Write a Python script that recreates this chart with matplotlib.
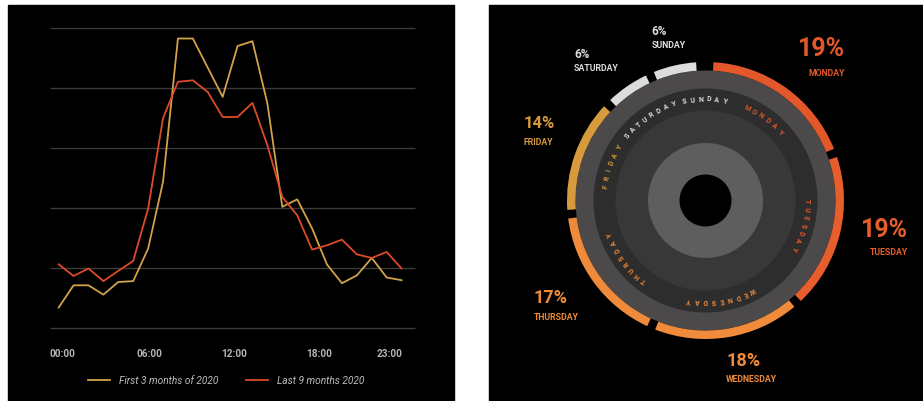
import numpy as np
import matplotlib.pyplot as plt
from matplotlib.patches import Wedge, Circle, Rectangle

plt.rcParams['font.family'] = ['Roboto', 'DejaVu Sans']

# hourly activity (index = hour of day)
hours = list(range(24))
first_3_months = [6.9, 14.3, 14.3, 11.2, 15.4, 15.7, 26.5, 48.7, 96.4, 96.4, 86.7, 77.0,
                  93.9, 95.5, 74.8, 40.4, 42.9, 33.2, 21.2, 15.0, 17.6, 23.4, 16.9, 16.0]
last_9_months = [21.3, 17.4, 19.9, 15.7, 19.1, 22.4, 39.8, 69.9, 82.0, 82.5, 78.6, 70.3,
                 70.3, 75.0, 60.9, 43.7, 37.6, 26.2, 27.6, 29.5, 24.6, 23.4, 25.4, 19.9]
tick_labels = ["00:00", "06:00", "12:00", "18:00", "23:00"]
tick_pos = [0.25, 6.1, 11.8, 17.5, 22.2]
series_names = ["First 3 months of 2020", "Last 9 months 2020"]

# share of activity per weekday (%)
days = ["MONDAY", "TUESDAY", "WEDNESDAY", "THURSDAY", "FRIDAY", "SATURDAY", "SUNDAY"]
shares = [19, 19, 18, 17, 14, 6, 6]
day_colors = ["#e2582b", "#e55e2c", "#f08b3b", "#ee8a3a", "#d79a3c", "#dcdcdc", "#dcdcdc"]

W, H = 923, 401
fig = plt.figure(figsize=(W / 100, H / 100), dpi=100, facecolor="white")


def px_axes(x0, y0, x1, y1):
    # axes from a pixel box, y measured from the top
    return fig.add_axes([x0 / W, 1 - y1 / H, (x1 - x0) / W, (y1 - y0) / H])


# black panels
for x0, x1 in [(8, 454), (488.7, 923)]:
    fig.add_artist(Rectangle((x0 / W, 0), (x1 - x0) / W, 396 / H,
                             transform=fig.transFigure, color="black", zorder=0))

# ---- left: hourly lines ----
ax = px_axes(50, 27.7, 415, 328.3)
ax.set_facecolor("none")
ax.set_xlim(-0.58, 23.9)
ax.set_ylim(0, 100)
ax.hlines(np.arange(0, 101, 20), -0.58, 23.9, color="#3b3b3b", lw=1.0,
          clip_on=False, zorder=0)
ax.plot(hours, first_3_months, color="#d2a24a", lw=1.3, label=series_names[0])
ax.plot(hours, last_9_months, color="#de4a2a", lw=1.3, label=series_names[1])
for s in ax.spines.values():
    s.set_visible(False)
ax.set_yticks([])
ax.set_xticks(tick_pos, tick_labels)
ax.tick_params(axis="x", length=0, pad=15, colors="#b5b5b5", labelsize=7.2)
for t in ax.get_xticklabels():
    t.set_fontweight("bold")
leg = ax.legend(loc="center", bbox_to_anchor=((226 - 50) / 365, -(381 - 328.3) / 300.6),
                ncol=2, frameon=False, handlelength=2.2, handletextpad=0.9,
                columnspacing=2.7, prop={"size": 7.3, "style": "italic"},
                labelcolor="#bdbdbd")

# ---- right: weekday ring ----
ax2 = px_axes(488.7, 5, 923, 401)
ax2.set_xlim(488.7, 923)
ax2.set_ylim(401, 5)
ax2.set_axis_off()
cx, cy = 705.5, 200.5

for r, c in [(130, "#4b494a"), (112, "#2d2d2d"), (90, "#383838"), (57.5, "#5e5e5e"), (26, "black")]:
    ax2.add_patch(Circle((cx, cy), r, color=c, lw=0))

deg_per_pct = 3.6
start = 1.5
gap = 3.6
cum = np.concatenate([[0], np.cumsum(shares)])
label_shift = {"SUNDAY": 12.5}
step = 4.6
r_text = 101

for i, day in enumerate(days):
    phi0 = start + cum[i] * deg_per_pct + gap / 2
    phi1 = start + cum[i + 1] * deg_per_pct - gap / 2
    ax2.add_patch(Wedge((cx, cy), 138.5, phi0 - 90, phi1 - 90, width=8.5,
                        color=day_colors[i], lw=0))
    # curved day name inside the ring
    mid = (phi0 + phi1) / 2 + label_shift.get(day, 0)
    n = len(day)
    for k, ch in enumerate(day):
        phi = mid + (k - (n - 1) / 2) * step
        a = np.radians(phi)
        ax2.text(cx + r_text * np.sin(a), cy - r_text * np.cos(a), ch,
                 rotation=-phi, rotation_mode="anchor", ha="center", va="center",
                 fontsize=5, fontweight="bold", color=day_colors[i])

# percentage labels around the ring
pct_pos = [(845, 49.3), (908, 230), (726, 360.7), (533.5, 298.3), (524, 124), (574, 55), (651.7, 31.7)]
name_y = [73.7, 252.7, 380, 317.3, 142.3, 68.3, 46]
pct_align = ["right", "right", "left", "left", "left", "left", "left"]
pct_size = [18, 18, 13, 13, 12, 8.5, 8.5]

for i, day in enumerate(days):
    x, y = pct_pos[i]
    ax2.text(x, y, f"{shares[i]}%", ha=pct_align[i], va="center", fontsize=pct_size[i],
             fontweight="bold", color=day_colors[i])
    ax2.text(x, name_y[i], day, ha=pct_align[i], va="center", fontsize=6.3,
             fontweight="bold", color=day_colors[i])

fig.savefig("out.png", dpi=100, facecolor="white")
